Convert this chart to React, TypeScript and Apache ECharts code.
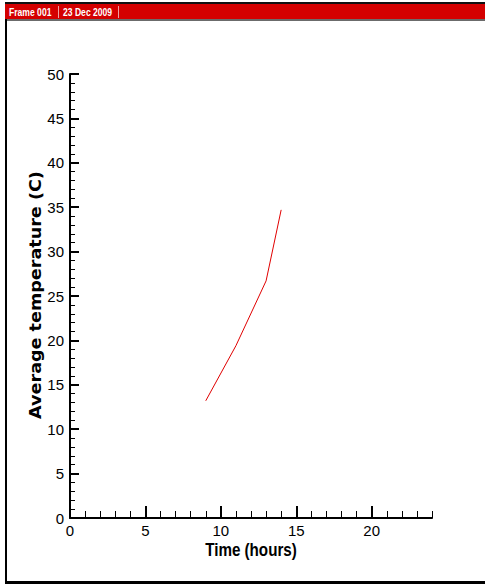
import React, { useEffect, useRef } from "react";
import * as echarts from "echarts";

const timeHours = [9, 11, 13, 14];
const avgTemperature = [13.2, 19.4, 26.7, 34.7];
const xMajorTicks = [0, 5, 10, 15, 20];
const headerLabels = ["Frame 001", "23 Dec 2009"];
const xTitle = "Time (hours)";
const yTitle = "Average temperature (C)";

const SANS = '"Liberation Sans", Arial, sans-serif';

export default function App() {
  const ref = useRef<HTMLDivElement>(null);
  useEffect(() => {
    if (!ref.current) return;
    const chart = echarts.init(ref.current, null, { renderer: "svg" });
    const data = timeHours.map((t, i) => [t, avgTemperature[i]]);
    chart.setOption({
      animation: false,
      backgroundColor: "#ffffff",
      grid: { left: 70, right: 53, top: 74, bottom: 68, containLabel: false },
      xAxis: [
        {
          type: "value",
          min: 0,
          max: 24,
          interval: 1,
          position: "bottom",
          axisLine: { show: true, onZero: false, lineStyle: { color: "#000", width: 2 } },
          axisTick: { show: true, inside: true, length: 7, lineStyle: { color: "#000", width: 1 } },
          axisLabel: {
            show: true,
            margin: 5,
            color: "#000",
            fontFamily: SANS,
            fontSize: 15,
            formatter: (v: number) => (xMajorTicks.includes(v) ? String(v) : ""),
          },
          splitLine: { show: false },
        },
        {
          type: "value",
          min: 0,
          max: 24,
          interval: 5,
          position: "bottom",
          axisLine: { show: false, onZero: false },
          axisTick: {
            show: true,
            inside: true,
            length: 12,
            customValues: xMajorTicks,
            lineStyle: { color: "#000", width: 2 },
          },
          axisLabel: { show: false },
          splitLine: { show: false },
        },
      ],
      yAxis: {
        type: "value",
        min: 0,
        max: 50,
        interval: 5,
        axisLine: { show: true, onZero: false, lineStyle: { color: "#000", width: 2 } },
        axisTick: { show: true, inside: true, length: 9, lineStyle: { color: "#000", width: 2 } },
        minorTick: { show: true, splitNumber: 5, length: 5, lineStyle: { color: "#000", width: 1 } },
        axisLabel: {
          show: true,
          margin: 6,
          color: "#000",
          fontFamily: SANS,
          fontSize: 15,
        },
        splitLine: { show: false },
        minorSplitLine: { show: false },
      },
      series: [
        {
          type: "line",
          xAxisIndex: 0,
          data,
          showSymbol: false,
          lineStyle: { color: "#e00000", width: 1 },
          itemStyle: { color: "#e00000" },
        },
      ],
      graphic: [
        { type: "rect", shape: { x: 5, y: 2, width: 480, height: 2 }, style: { fill: "#111" } },
        { type: "rect", shape: { x: 5, y: 4, width: 480, height: 15 }, style: { fill: "#d40000" } },
        { type: "rect", shape: { x: 5, y: 19, width: 480, height: 2 }, style: { fill: "#6b6b6b" } },
        { type: "rect", shape: { x: 5, y: 19, width: 2, height: 565 }, style: { fill: "#000" } },
        { type: "rect", shape: { x: 5, y: 581, width: 480, height: 3 }, style: { fill: "#000" } },
        {
          type: "text",
          x: 9,
          y: 12,
          scaleX: 0.78,
          style: {
            text: headerLabels[0],
            fill: "#fff",
            font: "bold 11px " + SANS,
            verticalAlign: "middle",
            align: "left",
          },
        },
        { type: "line", shape: { x1: 58.5, y1: 6, x2: 58.5, y2: 18 }, style: { stroke: "#f0a0a0", lineWidth: 1 } },
        {
          type: "text",
          x: 63,
          y: 12,
          scaleX: 0.78,
          style: {
            text: headerLabels[1],
            fill: "#fff",
            font: "bold 11px " + SANS,
            verticalAlign: "middle",
            align: "left",
          },
        },
        { type: "line", shape: { x1: 118.5, y1: 6, x2: 118.5, y2: 18 }, style: { stroke: "#f0a0a0", lineWidth: 1 } },
        {
          type: "text",
          x: 251,
          y: 549,
          scaleX: 0.8,
          style: {
            text: xTitle,
            fill: "#000",
            font: "bold 19px " + SANS,
            align: "center",
            verticalAlign: "middle",
          },
        },
        {
          type: "text",
          x: 35,
          y: 295,
          rotation: Math.PI / 2,
          scaleX: 1.1,
          style: {
            text: yTitle,
            fill: "#000",
            font: 'bold 16px "DejaVu Sans", sans-serif',
            align: "center",
            verticalAlign: "middle",
          },
        },
      ],
    });
    return () => chart.dispose();
  }, []);
  return (
    <div
      ref={ref}
      style={{ position: "absolute", left: 0, top: 0, width: 485, height: 586 }}
    />
  );
}
